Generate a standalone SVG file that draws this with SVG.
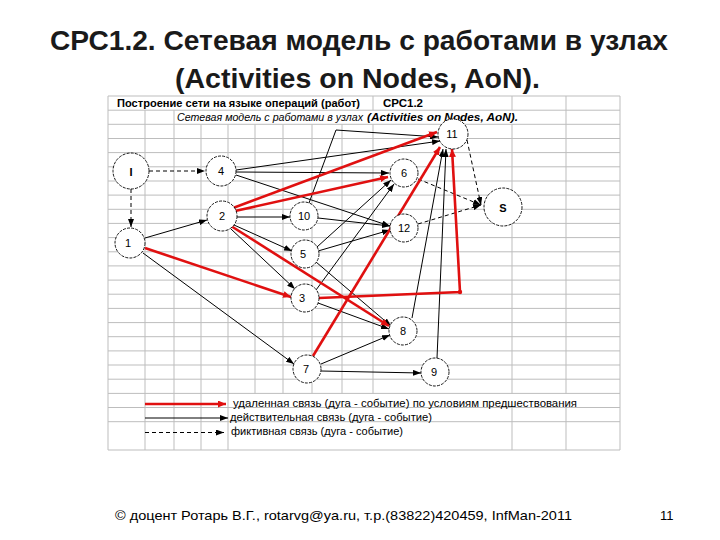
<svg xmlns="http://www.w3.org/2000/svg" width="720" height="540" viewBox="0 0 720 540">
<style>
.grid{stroke:#bdbdbd;stroke-width:1;fill:none}
.blk{stroke:#000;stroke-width:1;fill:none;marker-end:url(#ab)}
.red{stroke:#e01010;stroke-width:2.6;fill:none;marker-end:url(#ar)}
.dsh{stroke:#000;stroke-width:1;fill:none;stroke-dasharray:4 3;marker-end:url(#ab)}
.nd{fill:#fff;stroke:#000;stroke-width:0.9;stroke-dasharray:3 1.2}
.lb{font-family:"Liberation Sans",Arial,sans-serif;font-size:11px;text-anchor:middle;fill:#000}
.tt{font-family:"Liberation Sans",Arial,sans-serif;font-weight:bold;font-size:27px;fill:#1a1a1a;text-anchor:start}
.hd{font-family:"Liberation Sans",Arial,sans-serif;font-size:10.5px;fill:#000}
.lg{font-family:"Liberation Sans",Arial,sans-serif;font-size:11px;fill:#000}
.ft{font-family:"Liberation Sans",Arial,sans-serif;font-size:13px;fill:#000}
</style>
<defs>
<marker id="ab" markerUnits="userSpaceOnUse" markerWidth="8" markerHeight="6" refX="8" refY="3" orient="auto"><path d="M0,0 L8,3 L0,6 z" fill="#000"/></marker>
<marker id="ar" markerUnits="userSpaceOnUse" markerWidth="8" markerHeight="7" refX="8" refY="3.5" orient="auto"><path d="M0,0 L8,3.5 L0,7 z" fill="#e01010"/></marker>
</defs>
<rect width="720" height="540" fill="#fff"/>
<text class="tt" x="50" y="50" textLength="618" lengthAdjust="spacingAndGlyphs">СРС1.2. Сетевая модель с работами в узлах</text>
<text class="tt" x="175" y="88" textLength="365" lengthAdjust="spacingAndGlyphs">(Activities on Nodes, AoN).</text>
<g id="grid" class="grid">
<path d="M108,96H620M108,110.2H620M108,124.3H620M108,138.5H620M108,152.6H620M108,166.8H620M108,181H620M108,195.1H620M108,209.3H620M108,223.4H620M108,237.6H620M108,251.8H620M108,265.9H620M108,280.1H620M108,294.2H620M108,308.4H620M108,322.6H620M108,336.7H620M108,350.9H620M108,365H620M108,379.2H620M108,393.4H620M108,407.5H620M108,421.7H620M108,450H620"/>
<path d="M108,96V450M145,110.2V450M174,110.2V450M201,124.3V450M228,124.3V450M255,124.3V393.4M283,124.3V393.4M312,124.3V393.4M342,124.3V393.4M373,96V110.2M373,124.3V393.4M512,96V110.2M512,124.3V393.4M512,407.5V450M566,96V393.4M566,407.5V450M620,96V450"/>
</g>
<g id="header">
<text class="hd" x="117" y="106.5" font-weight="bold" textLength="243" lengthAdjust="spacingAndGlyphs">Построение сети  на языке операций (работ)</text>
<text class="hd" x="383" y="106.5" font-weight="bold" textLength="40" lengthAdjust="spacingAndGlyphs">СРС1.2</text>
<text class="hd" x="177" y="121" font-style="italic" textLength="186" lengthAdjust="spacingAndGlyphs">Сетевая модель с работами в узлах</text>
<text class="hd" x="367" y="121" font-style="italic" font-weight="bold" textLength="151" lengthAdjust="spacingAndGlyphs">(Activities on Nodes, AoN).</text>
</g>
<g id="connectors">
<path class="dsh" d="M149,171H205"/>
<path class="dsh" d="M131,189V227"/>
<path class="dsh" d="M467,140L481,205"/>
<path class="dsh" d="M418,179L481,205"/>
<path class="dsh" d="M418,224L481,205"/>
<path class="blk" d="M236,170L440,141"/>
<path class="blk" d="M236,172L389,173"/>
<path class="blk" d="M236,175L390,226"/>
<path class="blk" d="M309,203L336,130L438,137"/>
<path class="blk" d="M145,238L207,220"/>
<path class="blk" d="M143,253L294,364"/>
<path class="blk" d="M237,217H290"/>
<path class="blk" d="M234,225L292,251"/>
<path class="blk" d="M231,229L295,289"/>
<path class="blk" d="M318,218L390,226"/>
<path class="blk" d="M317,247L391,180"/>
<path class="blk" d="M318,251L390,230"/>
<path class="blk" d="M316,262L391,326"/>
<path class="blk" d="M316,290L394,184"/>
<path class="blk" d="M318,303L389,329"/>
<path class="blk" d="M321,364L390,335"/>
<path class="blk" d="M321,371L421,373"/>
<path class="blk" d="M412,318L443,149"/>
<path class="blk" d="M437,358L446,149"/>
<path class="red" d="M233,208L437,132"/>
<path class="red" d="M235,211L388,177"/>
<path class="red" d="M145,248L291,297"/>
<path class="red" d="M231,226L389,326"/>
<path class="red" d="M313,356L440,147"/>
<path class="red" d="M319,298L460,292L452,149"/>
<circle cx="460" cy="292" r="2.2" fill="#e01010"/>
</g>
<g id="n-I"><circle class="nd" cx="131" cy="171" r="18"/><text class="lb" x="131" y="176" font-weight="bold" font-size="13">I</text></g>
<g id="n-4"><circle class="nd" cx="221" cy="171" r="15"/><text class="lb" x="221" y="175">4</text></g>
<g id="n-2"><circle class="nd" cx="222" cy="216" r="15"/><text class="lb" x="222" y="220">2</text></g>
<g id="n-1"><circle class="nd" cx="130" cy="243" r="15"/><text class="lb" x="128" y="247">1</text></g>
<g id="n-11"><circle class="nd" cx="453" cy="134" r="15"/><text class="lb" x="452" y="138">11</text></g>
<g id="n-6"><circle class="nd" cx="404" cy="173" r="14"/><text class="lb" x="404" y="177">6</text></g>
<g id="n-S"><circle class="nd" cx="503" cy="207" r="19"/><text class="lb" x="503" y="212" font-family="'Liberation Serif',serif" font-weight="bold" font-size="14">S</text></g>
<g id="n-10"><circle class="nd" cx="304" cy="216" r="14"/><text class="lb" x="304" y="220">10</text></g>
<g id="n-12"><circle class="nd" cx="404" cy="228" r="14"/><text class="lb" x="404" y="232">12</text></g>
<g id="n-5"><circle class="nd" cx="305" cy="254" r="14"/><text class="lb" x="303" y="258">5</text></g>
<g id="n-3"><circle class="nd" cx="305" cy="298" r="14"/><text class="lb" x="302" y="302">3</text></g>
<g id="n-8"><circle class="nd" cx="403" cy="331" r="14"/><text class="lb" x="403" y="335">8</text></g>
<g id="n-7"><circle class="nd" cx="307" cy="369" r="14"/><text class="lb" x="306" y="373">7</text></g>
<g id="n-9"><circle class="nd" cx="435" cy="372" r="14"/><text class="lb" x="434" y="376">9</text></g>
<g id="legend">
<path class="red" d="M145,404H226"/>
<path class="blk" d="M145,418H228"/>
<path class="dsh" d="M145,432.5H224"/>
<text class="lg" x="233" y="407" textLength="344" lengthAdjust="spacingAndGlyphs">удаленная связь (дуга - событие)  по условиям предшествования</text>
<text class="lg" x="230" y="420.5" textLength="202" lengthAdjust="spacingAndGlyphs">действительная связь (дуга - событие)</text>
<text class="lg" x="231" y="435" textLength="172" lengthAdjust="spacingAndGlyphs">фиктивная связь (дуга - событие)</text>
</g>
<g id="footer">
<text class="ft" x="115" y="520" textLength="457" lengthAdjust="spacingAndGlyphs">© доцент Ротарь В.Г., rotarvg@ya.ru, т.р.(83822)420459, InfMan-2011</text>
<text class="ft" x="660" y="520" font-size="14">11</text>
</g>
</svg>
